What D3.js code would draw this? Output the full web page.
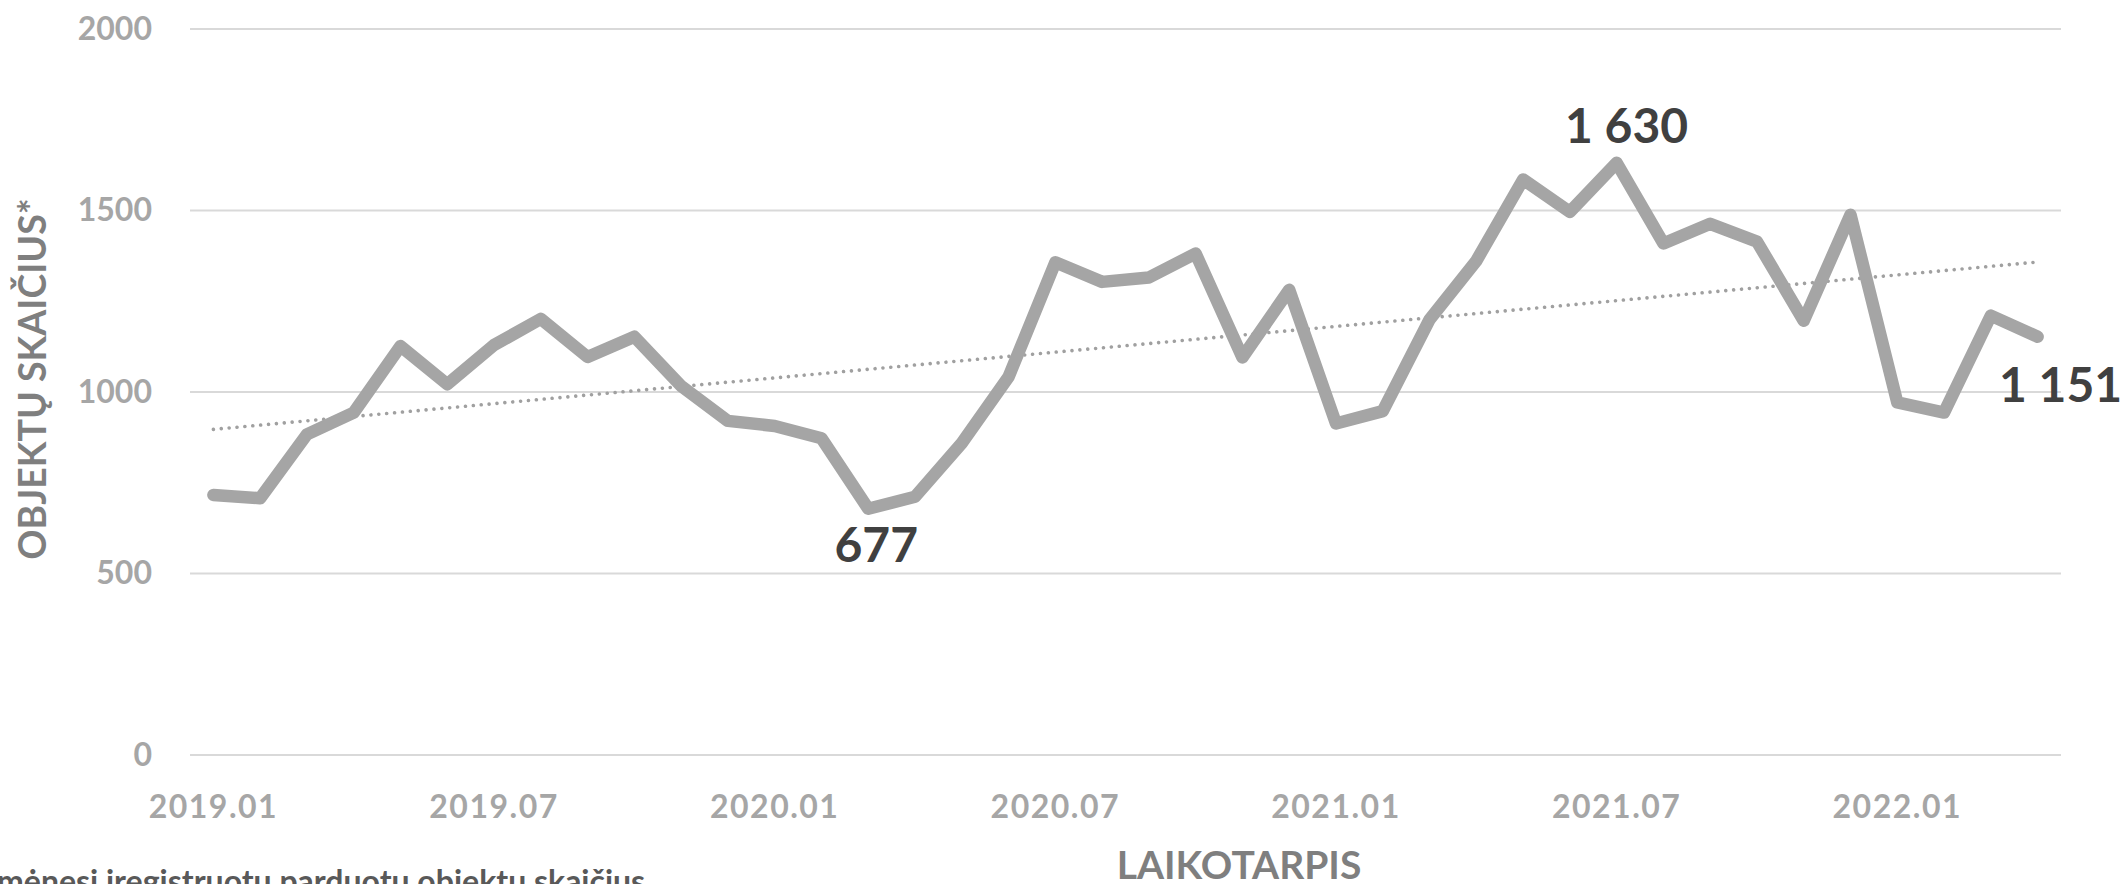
<!DOCTYPE html>
<html>
<head>
<meta charset="utf-8">
<script src="https://cdn.jsdelivr.net/npm/d3@7"></script>
<style>
  html, body { margin: 0; padding: 0; background: #fff; }
  svg { display: block; font-family: Lato, "Noto Sans", sans-serif; font-weight: bold; }
</style>
</head>
<body>
<div id="chart"></div>
<script>
// mėnesiai ir objektų skaičius
const months = [
  "2019.01","2019.02","2019.03","2019.04","2019.05","2019.06","2019.07","2019.08","2019.09","2019.10","2019.11","2019.12",
  "2020.01","2020.02","2020.03","2020.04","2020.05","2020.06","2020.07","2020.08","2020.09","2020.10","2020.11","2020.12",
  "2021.01","2021.02","2021.03","2021.04","2021.05","2021.06","2021.07","2021.08","2021.09","2021.10","2021.11","2021.12",
  "2022.01","2022.02","2022.03","2022.04"
];
const counts = [
  715, 706, 882, 942, 1125, 1020, 1128, 1200, 1095, 1151, 1015, 919,
  905, 871, 677, 710, 858, 1040, 1356, 1302, 1314, 1380, 1094, 1280,
  912, 946, 1198, 1360, 1584, 1495, 1630, 1408, 1462, 1413, 1195, 1487,
  970, 942, 1209, 1151
];
const yTicks = [0, 500, 1000, 1500, 2000];
const xTickLabels = ["2019.01","2019.07","2020.01","2020.07","2021.01","2021.07","2022.01"];
const labelled = ["2020.03", "2021.07", "2022.04"];

const yTitle = "OBJEKTŲ SKAIČIUS*";
const xTitle = "LAIKOTARPIS";
const note = "mėnesį įregistruotų parduotų objektų skaičius";

const width = 2128, height = 884;
const margin = {top: 28.5, right: 67, bottom: 129.5, left: 190};

const data = months.map((m, i) => ({month: m, value: counts[i]}));

const x = d3.scaleBand()
    .domain(months)
    .range([margin.left, width - margin.right]);
const cx = m => x(m) + x.bandwidth() / 2;

const y = d3.scaleLinear()
    .domain([0, 2000])
    .range([height - margin.bottom, margin.top]);

const lt = d3.formatLocale({decimal: ",", thousands: " ", grouping: [3], currency: ["", " €"]});
const fmt = lt.format(",");

const svg = d3.create("svg")
    .attr("width", width)
    .attr("height", height)
    .attr("viewBox", [0, 0, width, height]);

// y ašis + tinklelis
svg.append("g")
    .attr("transform", `translate(${margin.left},0)`)
    .call(d3.axisLeft(y).tickValues(yTicks).tickFormat(d3.format("d"))
        .tickSize(-(width - margin.left - margin.right)).tickPadding(38))
    .call(g => g.select(".domain").remove())
    .call(g => g.selectAll(".tick line").attr("stroke", "#d9d9d9").attr("stroke-width", 2))
    .call(g => g.selectAll(".tick text")
        .attr("fill", "#a6a6a6")
        .attr("font-size", 32)
        .attr("font-family", "Lato, 'Noto Sans', sans-serif")
        .attr("font-weight", "bold")
        .attr("dy", "0.34em"));

// x ašis
svg.append("g")
    .attr("transform", `translate(0,${y(0)})`)
    .call(d3.axisBottom(x).tickValues(xTickLabels).tickSize(0).tickPadding(41))
    .call(g => g.select(".domain").remove())
    .call(g => g.selectAll(".tick text")
        .attr("fill", "#a6a6a6")
        .attr("font-size", 32)
        .attr("letter-spacing", 1.5)
        .attr("font-family", "Lato, 'Noto Sans', sans-serif")
        .attr("font-weight", "bold"));

// tendencijos linija (mažiausių kvadratų)
const xs = d3.range(counts.length);
const mx = d3.mean(xs), my = d3.mean(counts);
const slope = d3.sum(xs, i => (i - mx) * (counts[i] - my)) / d3.sum(xs, i => (i - mx) ** 2);
const icpt = my - slope * mx;
const trend = [0, counts.length - 1].map(i => ({month: months[i], value: icpt + slope * i}));

svg.append("path")
    .datum(trend)
    .attr("fill", "none")
    .attr("stroke", "#a0a0a0")
    .attr("stroke-width", 3.6)
    .attr("stroke-linecap", "round")
    .attr("stroke-dasharray", "0.01 7.9")
    .attr("d", d3.line().x(d => cx(d.month)).y(d => y(d.value)));

// pagrindinė linija
svg.append("path")
    .datum(data)
    .attr("fill", "none")
    .attr("stroke", "#a5a5a5")
    .attr("stroke-width", 12.5)
    .attr("stroke-linejoin", "round")
    .attr("stroke-linecap", "round")
    .attr("d", d3.line().x(d => cx(d.month)).y(d => y(d.value)));

// duomenų etiketės
const labelOffset = {"2020.03": [8, 53], "2021.07": [10, -20], "2022.04": [23, 65]};
svg.append("g")
    .selectAll("text")
    .data(data.filter(d => labelled.includes(d.month)))
    .join("text")
    .attr("x", d => cx(d.month) + labelOffset[d.month][0])
    .attr("y", d => y(d.value) + labelOffset[d.month][1])
    .attr("text-anchor", "middle")
    .attr("fill", "#404040")
    .attr("font-size", 48)
    .text(d => fmt(d.value));

// ašių pavadinimai
svg.append("text")
    .attr("transform", `translate(46,379) rotate(-90)`)
    .attr("text-anchor", "middle")
    .attr("fill", "#7f7f7f")
    .attr("font-size", 37.5)
    .text(yTitle);

svg.append("text")
    .attr("x", 1239)
    .attr("y", 879)
    .attr("text-anchor", "middle")
    .attr("fill", "#7f7f7f")
    .attr("font-size", 39)
    .text(xTitle);

// išnaša (apkirpta apačioje, kaip originale)
svg.append("text")
    .attr("x", -3)
    .attr("y", 893)
    .attr("fill", "#595959")
    .attr("font-size", 32)
    .text(note);

d3.select("#chart").node().appendChild(svg.node());
</script>
</body>
</html>
